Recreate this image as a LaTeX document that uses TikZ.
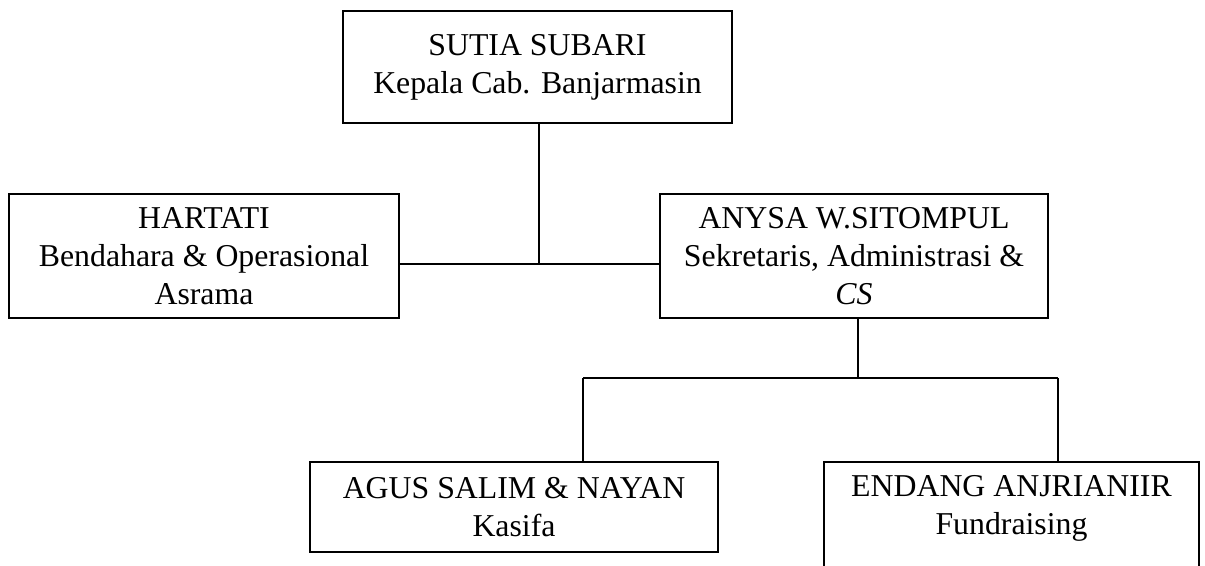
\documentclass[tikz,border=0pt]{standalone}
\usepackage{fontspec}
\setmainfont{Liberation Serif}
\usetikzlibrary{positioning}

\begin{document}
\begin{tikzpicture}[x=0.5pt,y=-0.5pt,
		jabatan/.style={draw, line width=0.8pt, inner sep=0pt, align=center, font=\fontsize{15.9}{19}\selectfont},
		garis/.style={line width=0.8pt}]
			\useasboundingbox (0,0) rectangle (1205,566);
			\clip (0,0) rectangle (1205,566);
			\node[jabatan, minimum width=194.5pt, minimum height=56pt] (kepala) at (537.5,67) {SUTIA SUBARI\\Kepala Cab. Banjarmasin};
			\node[jabatan, minimum width=195pt, minimum height=62pt] (bendahara) at (204,256) {HARTATI\\Bendahara \& Operasional\\Asrama};
			\node[jabatan, minimum width=194pt, minimum height=62pt] (sekretaris) at (854,256) {ANYSA W.SITOMPUL\\Sekretaris, Administrasi \&\\\textit{CS}};
			\node[jabatan, minimum width=204pt, minimum height=45pt] (kasifa) at (514,507) {AGUS SALIM \& NAYAN\\Kasifa};
			\node[jabatan, minimum width=187.5pt, minimum height=62pt] (fundraising) at (1011.5,524) {ENDANG ANJRIANIIR\\Fundraising\\\mbox{}};
			\coordinate (j1) at (539,264);
			\coordinate (j2) at (858,378);
			\coordinate (t1) at (583,378);
			\coordinate (t2) at (1058,378);
			\draw[garis] (kepala.south -| j1) -- (j1);
			\draw[garis] (bendahara.east |- j1) -- (sekretaris.west |- j1);
			\draw[garis] (sekretaris.south -| j2) -- (j2);
			\draw[garis] (t1) -- (t2);
			\draw[garis] (t1) -- (t1 |- kasifa.north);
			\draw[garis] (t2) -- (t2 |- fundraising.north);
		\end{tikzpicture}
\end{document}
